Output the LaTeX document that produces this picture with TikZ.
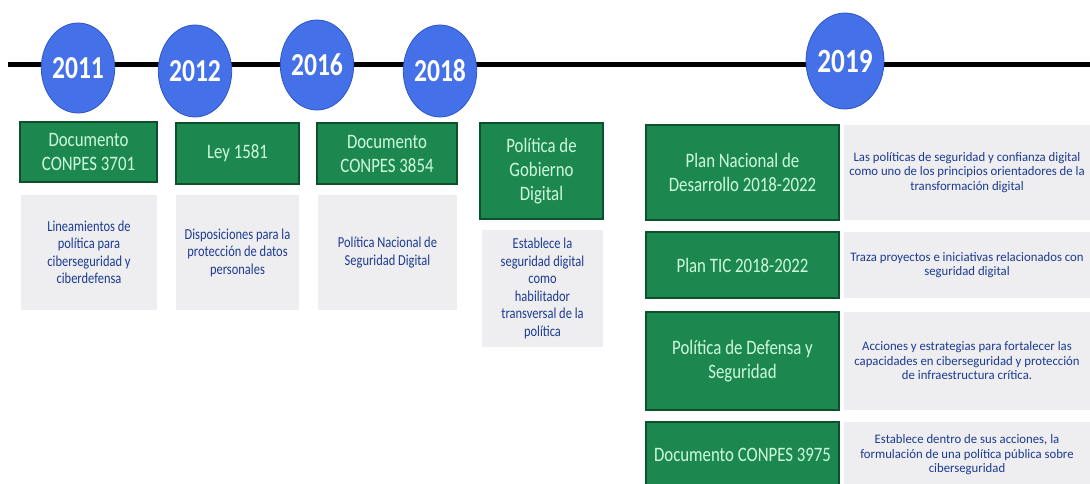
\documentclass[tikz,border=0pt]{standalone}
\usepackage{fontspec}
\setmainfont{Carlito}[FakeStretch=0.82]
\newfontfamily\notefont{Carlito}[FakeStretch=0.98]
\newfontfamily\yearfont{Carlito}[FakeStretch=0.8]
\usetikzlibrary{shapes.geometric}

\definecolor{ballBlue}{RGB}{68,112,232}
\definecolor{ballEdge}{RGB}{48,86,200}
\definecolor{boxGreen}{RGB}{28,136,80}
\definecolor{boxEdge}{RGB}{12,80,44}
\definecolor{mint}{RGB}{205,250,220}
\definecolor{paleGray}{RGB}{238,238,240}
\definecolor{navy}{RGB}{28,58,145}

\begin{document}
\begin{tikzpicture}[x=1pt,y=-1pt,
  yearball/.style={ellipse, draw=ballEdge, line width=0.8pt, fill=ballBlue,
    inner sep=0pt, text=white, font=\yearfont\fontsize{32}{34}\selectfont\bfseries},
  bigyear/.style={yearball, font=\yearfont\fontsize{34}{36}\selectfont\bfseries},
  titlebox/.style={rectangle, draw=boxEdge, line width=1.6pt, fill=boxGreen,
    inner sep=0pt, text=mint, align=center,
    font=\fontsize{20.5}{24}\selectfont},
  notebox/.style={rectangle, fill=paleGray, inner sep=0pt, text=navy,
    align=center, font=\fontsize{15.2}{17.5}\selectfont},
  widenote/.style={notebox, font=\notefont\fontsize{13}{14.5}\selectfont},
  timeline/.style={line width=5pt, black}
]
\useasboundingbox (0,0) rectangle (1090,484);
\fill[white] (0,0) rectangle (1090,484);

% timeline axis
\coordinate (tlstart) at (8,65);
\coordinate (tlend) at (1090,65);
\draw[timeline] (tlstart) -- (tlend);

% year markers
\node[yearball, minimum width=60pt, minimum height=90pt] (y2011) at (78,68) {2011};
\node[yearball, minimum width=60pt, minimum height=92pt] (y2012) at (195,71) {2012};
\node[yearball, minimum width=60pt, minimum height=90pt] (y2016) at (317,65) {2016};
\node[yearball, minimum width=60pt, minimum height=92pt] (y2018) at (440,71) {2018};
\node[bigyear, minimum width=75pt, minimum height=96pt] (y2019) at (845,61) {2019};

% 2011 - 2018 columns
\node[titlebox, minimum width=137pt, minimum height=60pt] (t2011) at (88.5,152) {Documento\\CONPES 3701};
\node[titlebox, minimum width=123pt, minimum height=61pt] (t2012) at (237.5,153.5) {Ley 1581};
\node[titlebox, minimum width=140pt, minimum height=61pt] (t2016) at (387,153.5) {Documento\\CONPES 3854};
\node[titlebox, minimum width=123pt, minimum height=96pt] (t2018) at (541.5,171) {Política de\\Gobierno\\Digital};

\node[notebox, minimum width=136pt, minimum height=115pt] (n2011) at (89,252.5) {Lineamientos de\\política para\\ciberseguridad y\\ciberdefensa};
\node[notebox, minimum width=123pt, minimum height=115pt] (n2012) at (237.5,252.5) {Disposiciones para la\\protección de datos\\personales};
\node[notebox, minimum width=139pt, minimum height=115pt] (n2016) at (387.5,252.5) {Política Nacional de\\Seguridad Digital};
\node[notebox, minimum width=121pt, minimum height=117pt] (n2018) at (542.5,288.5) {Establece la\\seguridad digital\\como\\habilitador\\transversal de la\\política};

% 2019 rows
\node[titlebox, minimum width=193pt, minimum height=95pt] (ta) at (742.5,172.5) {Plan Nacional de\\Desarrollo 2018-2022};
\node[titlebox, minimum width=193pt, minimum height=66pt] (tb) at (742.5,265) {Plan TIC 2018-2022};
\node[titlebox, minimum width=193pt, minimum height=98pt] (tc) at (742.5,361) {Política de Defensa y\\Seguridad};
\node[titlebox, minimum width=193pt, minimum height=66pt] (td) at (742.5,455) {Documento CONPES 3975};

\node[widenote, minimum width=246pt, minimum height=95pt] (na) at (967,172.5) {Las políticas de seguridad y confianza digital\\como uno de los principios orientadores de la\\transformación digital};
\node[widenote, minimum width=246pt, minimum height=66pt] (nb) at (967,265) {Traza proyectos e iniciativas relacionados con\\seguridad digital};
\node[widenote, minimum width=246pt, minimum height=98pt] (nc) at (967,361) {Acciones y estrategias para fortalecer las\\capacidades en ciberseguridad y protección\\de infraestructura crítica.};
\node[widenote, minimum width=246pt, minimum height=66pt] (nd) at (967,455) {Establece dentro de sus acciones, la\\formulación de una política pública sobre\\ciberseguridad};
\end{tikzpicture}
\end{document}
